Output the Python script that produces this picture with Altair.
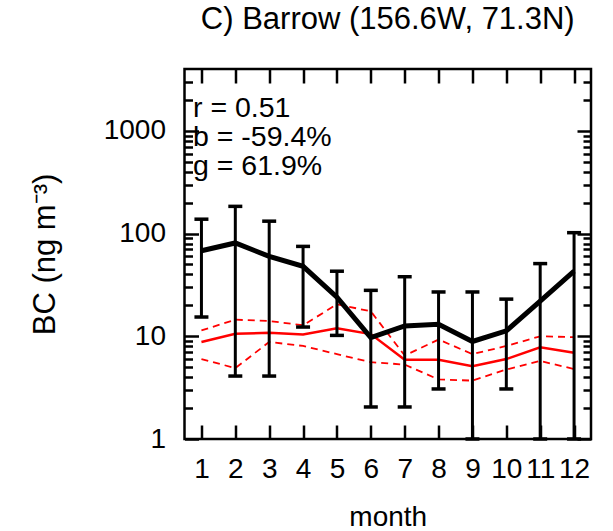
import altair as alt
import pandas as pd

months = list(range(1, 13))
obs_mean = [68, 81, 60, 48, 24, 9.7, 12.6, 13.1, 8.9, 11.3, 22, 43]
obs_upper = [138, 184, 132, 75, 43, 28, 38, 27, 27, 23, 51, 102]
obs_lower = [15.4, 4.1, 4.1, 12.3, 10.2, 2.05, 2.05, 3.07, 1.0, 3.07, 1.0, 1.0]
mod_mean = [8.8, 10.6, 10.8, 10.4, 12.0, 10.5, 5.9, 5.9, 5.1, 6.0, 7.8, 6.9]
mod_upper = [11.4, 14.5, 14.1, 12.8, 20.5, 17.5, 6.5, 9.3, 6.7, 8.05, 10.0, 9.8]
mod_lower = [6.0, 4.9, 8.8, 8.05, 6.7, 5.6, 5.3, 3.8, 3.7, 4.75, 5.75, 4.8]
stats_lines = ["r = 0.51", "b = -59.4%", "g = 61.9%"]
title_text = "C) Barrow (156.6W, 71.3N)"
y_title = "BC (ng m\u207b\u00b3)"
x_title = "month"
y_major = [1, 10, 100, 1000]
y_minor = [2, 3, 4, 5, 6, 7, 8, 9, 20, 30, 40, 50, 60, 70, 80, 90,
           200, 300, 400, 500, 600, 700, 800, 900, 2000, 3000]

FONT = "Liberation Sans"
FS = 28

obs = pd.DataFrame({"month": months, "mean": obs_mean, "lo": obs_lower, "hi": obs_upper})
mod = pd.DataFrame({"month": months, "mean": mod_mean})
band = pd.DataFrame({
    "month": months * 2,
    "value": mod_upper + mod_lower,
    "series": ["upper"] * 12 + ["lower"] * 12,
})

xs = alt.Scale(domain=[0.5, 12.5], nice=False, zero=False)
ys = alt.Scale(type="log", domain=[1, 4000], nice=False)

common = dict(domain=False, grid=False, tickColor="black", tickWidth=2.5,
              labelColor="black", labelFont=FONT, labelFontSize=FS,
              titleFont=FONT, titleFontWeight="normal",
              titleColor="black", labelOverlap=False, labelFlush=False, labelBound=False)

ax_bottom = alt.Axis(orient="bottom", values=months, tickSize=14, offset=-14,
                     labelPadding=16, title=x_title, titleFontSize=FS, titlePadding=20,
                     format="d", **common)
ax_top = alt.Axis(orient="top", values=months, tickSize=14, offset=-14,
                  labels=False, title=None, **common)
ax_left = alt.Axis(orient="left", values=y_major, tickSize=14, offset=-14,
                   labelPadding=19, format="d", title=y_title, titleFontSize=31,
                   titlePadding=42, **common)
ax_right = alt.Axis(orient="right", values=y_major, tickSize=14, offset=-14,
                    labels=False, title=None, **common)
ax_left_minor = alt.Axis(orient="left", values=y_minor, tickSize=8, offset=-8,
                         labels=False, title=None, **common)
ax_right_minor = alt.Axis(orient="right", values=y_minor, tickSize=8, offset=-8,
                          labels=False, title=None, **common)

band_layer = alt.Chart(band).mark_line(color="#ff0000", strokeWidth=1.8, strokeDash=[7, 5]).encode(
    x=alt.X("month:Q", scale=xs, axis=None),
    y=alt.Y("value:Q", scale=ys, axis=ax_left_minor),
    detail="series:N",
)

mod_layer = alt.Chart(mod).mark_line(color="#ff0000", strokeWidth=2.5).encode(
    x=alt.X("month:Q", scale=xs, axis=None),
    y=alt.Y("mean:Q", scale=ys, axis=ax_right_minor),
)

err_layer = alt.Chart(obs).mark_rule(color="black", strokeWidth=3).encode(
    x=alt.X("month:Q", scale=xs, axis=ax_top),
    y=alt.Y("lo:Q", scale=ys, axis=ax_right),
    y2="hi:Q",
)

cap_hi = alt.Chart(obs).mark_tick(color="black", orient="horizontal", size=14, thickness=3.5,
                                  opacity=1).encode(
    x=alt.X("month:Q", scale=xs, axis=None),
    y=alt.Y("hi:Q", scale=ys, axis=None),
)
cap_lo = alt.Chart(obs).mark_tick(color="black", orient="horizontal", size=14, thickness=3.5,
                                  opacity=1).encode(
    x=alt.X("month:Q", scale=xs, axis=None),
    y=alt.Y("lo:Q", scale=ys, axis=None),
)

obs_layer = alt.Chart(obs).mark_line(color="black", strokeWidth=5, strokeJoin="miter").encode(
    x=alt.X("month:Q", scale=xs, axis=ax_bottom),
    y=alt.Y("mean:Q", scale=ys, axis=ax_left),
)

stats = alt.Chart(pd.DataFrame({"t": [stats_lines]})).mark_text(
    font=FONT, fontSize=28.5, align="left", baseline="alphabetic", lineHeight=29, color="black"
).encode(text="t", x=alt.value(8.5), y=alt.value(47.5))

chart = alt.layer(band_layer, mod_layer, err_layer, cap_hi, cap_lo, obs_layer, stats).resolve_scale(
    x="shared", y="shared"
).resolve_axis(x="independent", y="independent").properties(
    width=406.5,
    height=370,
    background="white",
    autosize=alt.AutoSizeParams(type="none"),
    padding={"left": 184.5, "top": 69, "right": 22, "bottom": 92},
    title=alt.TitleParams(title_text, font=FONT, fontSize=31, fontWeight="normal", color="black",
                          anchor="middle", frame="group", baseline="alphabetic", offset=8),
).configure_view(stroke="black", strokeWidth=2.5)

chart.save("out.html", embed_options={"renderer": "svg", "actions": False})
